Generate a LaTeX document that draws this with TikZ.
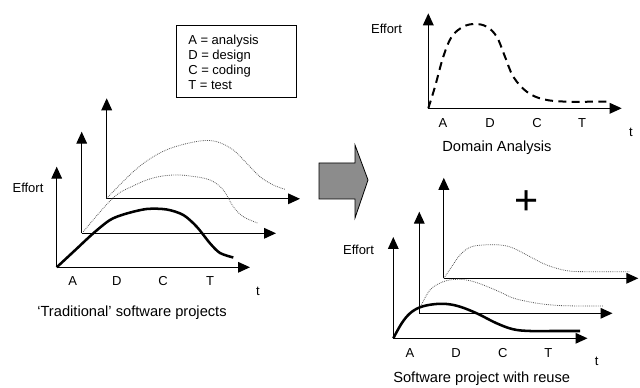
\documentclass[tikz,border=0pt]{standalone}
\usepackage{fontspec}
\setmainfont{Liberation Sans}
\usetikzlibrary{arrows.meta}
\begin{document}
\begin{tikzpicture}[x=0.75pt,y=-0.75pt,
 axis/.style={line width=0.9pt,-{Triangle[length=9pt,width=8pt]}},
 thickcurve/.style={line width=1.9pt},
 dotcurve/.style={line width=0.6pt, black!65, dash pattern=on 0.6pt off 0.8pt},
 dashcurve/.style={line width=1.5pt, dash pattern=on 6pt off 4pt},
 lbl/.style={font=\fontsize{9.75}{11}\selectfont, inner sep=0pt},
 captext/.style={font=\fontsize{11}{13}\selectfont, inner sep=0pt},
 legendtext/.style={font=\fontsize{9.75}{11}\selectfont, inner sep=0pt, anchor=base west},
]
\useasboundingbox (0,0) rectangle (640,388);

% ---------- legend ----------
\node[draw, line width=0.7pt, anchor=north west, inner sep=0pt, minimum width=90pt, minimum height=54pt] (legend) at (176,25) {};
\node[legendtext] (lA) at (188,44.5) {A = analysis};
\node[legendtext] (lD) at (188,59.5) {D = design};
\node[legendtext] (lC) at (188,74.5) {C = coding};
\node[legendtext] (lT) at (188,89.5) {T = test};

% ---------- left diagram: traditional ----------
\coordinate (Lo1) at (56.7,267.3); \coordinate (Lv1) at (56.7,166.7); \coordinate (Lh1) at (250,267.3);
\coordinate (Lo2) at (81.7,233.3); \coordinate (Lv2) at (81.7,131.7); \coordinate (Lh2) at (276,233.3);
\coordinate (Lo3) at (106.7,198.8); \coordinate (Lv3) at (106.7,98.3); \coordinate (Lh3) at (300,198.8);
\draw[axis] (Lo3) -- (Lv3); \draw[axis] (Lo3) -- (Lh3);
\draw[axis] (Lo2) -- (Lv2); \draw[axis] (Lo2) -- (Lh2);
\draw[axis] (Lo1) -- (Lv1); \draw[axis] (Lo1) -- (Lh1);

\draw[dotcurve] plot[smooth, tension=0.6] coordinates {(106.7,198.3) (133.3,171.7) (153.3,156.7) (173.3,147.3) (200,141) (216.7,141.7) (233.3,150) (246.7,163.3) (260,176.7) (273.3,185) (285,189.3)};
\draw[dotcurve] plot[smooth, tension=0.6] coordinates {(83.3,231.7) (113,198) (133,186) (153,178) (173,175) (190,176) (210,180) (223.3,190) (233.3,206.7) (243.3,216.7) (258.3,223.3)};
\draw[thickcurve] plot[smooth, tension=0.5] coordinates {(56.7,267.3) (75,250.3) (93.3,233.3) (110,220) (125,214) (146.7,209) (166.7,209.5) (183.3,215) (196.7,226.7) (210,243.3) (220,253) (233.3,257.5)};

\node[lbl] (Leff) at (28,188) {Effort};
\node[lbl] (LA) at (72.7,281) {A};
\node[lbl] (LD) at (116.7,281) {D};
\node[lbl] (LC) at (163,281) {C};
\node[lbl] (LT) at (210,281) {T};
\node[lbl] (Lt) at (258,291) {t};
\node[captext] (Lcap) at (132,313) {‘Traditional’ software projects};

% ---------- big arrow ----------
\draw[fill=black!45, line width=0.6pt] (319,163) -- (355,163) -- (355,145) -- (368,180) -- (355,218) -- (355,199) -- (319,199) -- cycle;

% ---------- top right: domain analysis ----------
\coordinate (Do) at (428.3,108.3); \coordinate (Dv) at (428.3,13.3); \coordinate (Dh) at (621.7,108.3);
\draw[axis] (Do) -- (Dv); \draw[axis] (Do) -- (Dh);
\draw[dashcurve] plot[smooth, tension=0.6] coordinates {(428.3,108.3) (435,86.7) (443.3,56.7) (451.7,36.7) (463.3,26.7) (475,24) (486.7,26.7) (496.7,36.7) (505,56.7) (513.3,76.7) (526.7,91.7) (543.3,99.3) (566.7,101.7) (593,101.7) (610,101.7)};
\node[lbl] (Deff) at (386.5,29) {Effort};
\node[lbl] (DA) at (443,123) {A};
\node[lbl] (DD) at (490,123) {D};
\node[lbl] (DC) at (537,123) {C};
\node[lbl] (DT) at (582,123) {T};
\node[lbl] (Dt) at (631,132) {t};
\node[captext] (Dcap) at (497,148) {Domain Analysis};

% ---------- plus ----------
\node[font=\fontsize{31}{31}\selectfont, inner sep=0pt] (plus) at (527,203) {+};

% ---------- bottom right: with reuse ----------
\coordinate (Ro1) at (393.3,338.3); \coordinate (Rv1) at (393.3,237); \coordinate (Rh1) at (587.5,338.3);
\coordinate (Ro2) at (419.3,313.3); \coordinate (Rv2) at (419.3,211.7); \coordinate (Rh2) at (612.5,313.3);
\coordinate (Ro3) at (443.8,278.3); \coordinate (Rv3) at (443.8,177.8); \coordinate (Rh3) at (638.3,278.3);
\draw[axis] (Ro3) -- (Rv3); \draw[axis] (Ro3) -- (Rh3);
\draw[axis] (Ro2) -- (Rv2); \draw[axis] (Ro2) -- (Rh2);
\draw[axis] (Ro1) -- (Rv1); \draw[axis] (Ro1) -- (Rh1);

\draw[dotcurve] plot[smooth, tension=0.6] coordinates {(443.8,278.3) (451.7,266.7) (460,255) (470,247.3) (483.3,245) (500,245) (513,248) (530,256.7) (546.7,265) (566.7,270.7) (586.7,271.7) (630,271.7)};
\draw[dotcurve] plot[smooth, tension=0.6] coordinates {(420,308) (430,290) (443.3,281.7) (456.7,279.3) (470,280.7) (483.3,285) (500,292) (513,298) (530,302) (546.7,304.5) (566.7,305.8) (603,306)};
\draw[thickcurve] plot[smooth, tension=0.6] coordinates {(393.3,338.3) (401.7,323.3) (410,313.3) (420,307.3) (433.3,304.3) (446.7,304) (460,306.7) (476.7,313.3) (496.7,323.3) (513.3,329.3) (530,331) (553.3,331) (580,331)};

\node[lbl] (Reff) at (358.5,250) {Effort};
\node[lbl] (RA) at (410,353) {A};
\node[lbl] (RD) at (456,353) {D};
\node[lbl] (RC) at (502.7,353) {C};
\node[lbl] (RT) at (548.3,353) {T};
\node[lbl] (Rt) at (596.7,361) {t};
\node[captext] (Rcap) at (481.7,378.3) {Software project with reuse};
\end{tikzpicture}
\end{document}
